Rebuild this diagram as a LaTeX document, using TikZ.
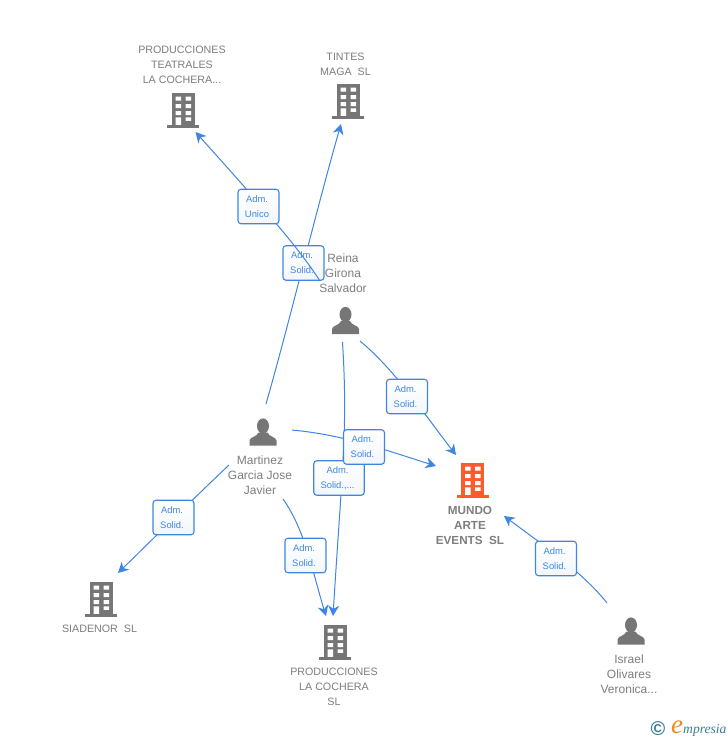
\documentclass[tikz,border=0pt]{standalone}
\usepackage{fontspec}
\setmainfont{Liberation Sans}
\newfontfamily\serifit{Liberation Serif}
\usetikzlibrary{arrows.meta}
\definecolor{edgeblue}{HTML}{3F86E2}
\definecolor{labelgray}{HTML}{7E7E7E}
\definecolor{icongray}{HTML}{767676}
\definecolor{iconorange}{HTML}{FF5A2B}
\definecolor{badgelow}{HTML}{F3F6FA}
\definecolor{logoteal}{HTML}{3E7F96}
\definecolor{logoorange}{HTML}{F08A24}
\newcommand{\badgelines}[2]{\raisebox{-0.7pt}{#1}\rule{3pt}{0pt}\\\raisebox{-0.7pt}{#2}\rule{3pt}{0pt}}
\tikzset{
  x=1pt,y=-1pt,
  link/.style={draw=edgeblue,line width=1pt,-{Stealth[length=10.5pt,width=11pt,inset=3.4pt]}},
  badge/.style={draw=edgeblue,line width=1.1pt,rounded corners=3pt,top color=white,bottom color=badgelow,
    text=edgeblue,font=\fontsize{9.4}{15}\selectfont,align=center,inner sep=0pt,minimum height=34.5pt},
  tag/.style={text=labelgray,font=\fontsize{10.7}{15}\selectfont,align=center,inner sep=0pt,yshift=-0.8pt},
  nametag/.style={text=labelgray,font=\fontsize{12}{15}\selectfont,align=center,inner sep=0pt,yshift=-0.3pt},
  boldtag/.style={text=labelgray,font=\fontsize{11.7}{15}\selectfont\bfseries,align=center,inner sep=0pt,yshift=-0.5pt},
  iconbox/.style={inner sep=0pt,minimum width=30pt,minimum height=34pt},
  building/.pic={
    \fill[pic actions] (-11.5,-17) rectangle (11.5,15.5);
    \fill[pic actions] (-16,14.8) rectangle (16,17.5);
    \fill[white] (-7.5,-13.3) rectangle (-2,-9.3) (2.5,-13.3) rectangle (8,-9.3)
                 (-7.5,-6) rectangle (-2,-1.8) (2.5,-6) rectangle (8,-1.8)
                 (-7.5,1) rectangle (-2,5) (2.5,1) rectangle (8,5)
                 (-7.5,7.3) rectangle (-2,14.8) (2.5,7.3) rectangle (8,10.8);
  },
  person/.pic={
    \fill[pic actions] (0,-6) ellipse [x radius=6,y radius=7.6];
    \fill[pic actions] (-13.5,13.5) -- (-13.5,8.5) .. controls (-13,4.8) and (-6,5) .. (-4.5,0.5)
      -- (4.5,0.5) .. controls (6,5) and (13,4.8) .. (13.5,8.5) -- (13.5,13.5) -- cycle;
  }
}
\begin{document}
\begin{tikzpicture}
\useasboundingbox[fill=white] (0,0) rectangle (728,740);

% icons
\node[iconbox] (teatrales) at (183,110) {};
\pic[fill=icongray] at (teatrales) {building};
\node[iconbox] (tintes) at (348,101) {};
\pic[fill=icongray] at (tintes) {building};
\node[iconbox] (mundo) at (472.5,480) {};
\pic[fill=iconorange] at (mundo) {building};
\node[iconbox] (siadenor) at (101,599) {};
\pic[fill=icongray] at (siadenor) {building};
\node[iconbox] (cochera) at (335,642) {};
\pic[fill=icongray] at (cochera) {building};
\node[iconbox] (reina) at (345.5,320.5) {};
\pic[fill=icongray] at (reina) {person};
\node[iconbox] (martinez) at (263,432) {};
\pic[fill=icongray] at (martinez) {person};
\node[iconbox] (israel) at (631,631) {};
\pic[fill=icongray] at (israel) {person};

% labels
\node[tag] (teatraleslabel) at (182,64) {PRODUCCIONES\\TEATRALES\\LA COCHERA...};
\node[tag] (tinteslabel) at (345.5,63.5) {TINTES\\MAGA\ \ SL};
\node[nametag] (reinalabel) at (343,273) {Reina\\Girona\\Salvador};
\node[nametag] (martinezlabel) at (260,475) {Martinez\\Garcia Jose\\Javier};
\node[boldtag] (mundolabel) at (470,525) {MUNDO\\ARTE\\EVENTS\ \ SL};
\node[tag] (siadenorlabel) at (99.5,628) {SIADENOR\ \ SL};
\node[tag] (cocheralabel) at (334,686) {PRODUCCIONES\\LA COCHERA\\SL};
\node[nametag] (israellabel) at (629,674) {Israel\\Olivares\\Veronica...};

% connector free ends
\coordinate (reinaA) at (320,281);
\coordinate (teatralesT) at (195.5,132);
\coordinate (martinezA) at (266,404);
\coordinate (tintesT) at (341,124);
\coordinate (reinaB) at (360,341);
\coordinate (mundoT) at (456,455);
\coordinate (reinaC) at (342.5,342);
\coordinate (cocheraT) at (333,616);
\coordinate (martinezB) at (292,430);
\coordinate (mundoL) at (436,466);
\coordinate (martinezC) at (229,465);
\coordinate (siadenorT) at (118,573);
\coordinate (martinezD) at (283,499);
\coordinate (cocheraL) at (326,616);
\coordinate (israelA) at (607,603);
\coordinate (mundoR) at (504,516);

% connectors and badges, in stacking order
\draw[link] (martinezA) .. controls (290,320) and (315,215) .. (tintesT);
\node[badge,minimum width=41pt] (b2) at (303.5,263) {\badgelines{Adm.}{Solid.}};
\draw[link] (reinaA) .. controls (300,250) and (270,215) .. (teatralesT);
\node[badge,minimum width=41pt] (b1) at (258.5,206.5) {\badgelines{Adm.}{Unico}};

\draw[link] (reinaB) .. controls (395,370) and (425,415) .. (mundoT);
\node[badge,minimum width=41pt] (b3) at (407,396.5) {\badgelines{Adm.}{Solid.}};

\draw[link] (reinaC) .. controls (348,430) and (342,470) .. (cocheraT);
\node[badge,minimum width=50.5pt] (b5) at (339,478) {\badgelines{Adm.}{Solid.,...}};
\draw[link] (martinezB) .. controls (345,435) and (385,450) .. (mundoL);
\node[badge,minimum width=41pt] (b4) at (364,447) {\badgelines{Adm.}{Solid.}};

\draw[link] (martinezC) .. controls (195,497) and (155,537) .. (siadenorT);
\node[badge,minimum width=41pt] (b6) at (173.5,517.5) {\badgelines{Adm.}{Solid.}};

\draw[link] (martinezD) .. controls (305,530) and (312,570) .. (cocheraL);
\node[badge,minimum width=41pt] (b7) at (305.5,555.5) {\badgelines{Adm.}{Solid.}};

\draw[link] (israelA) .. controls (585,575) and (550,550) .. (mundoR);
\node[badge,minimum width=41pt] (b8) at (556,558.5) {\badgelines{Adm.}{Solid.}};

% logo
\node[inner sep=0pt,text=logoteal,font=\bfseries\fontsize{20}{20}\selectfont] (copy) at (658,729) {©};
\node[inner sep=0pt,text=logoorange,font=\serifit\itshape\fontsize{27}{27}\selectfont] (loge) at (677,727) {e};
\node[inner sep=0pt,anchor=base west,text=logoteal,font=\serifit\itshape\fontsize{13.6}{13.6}\selectfont] (logtext) at (683,733) {mpresia};
\end{tikzpicture}
\end{document}
